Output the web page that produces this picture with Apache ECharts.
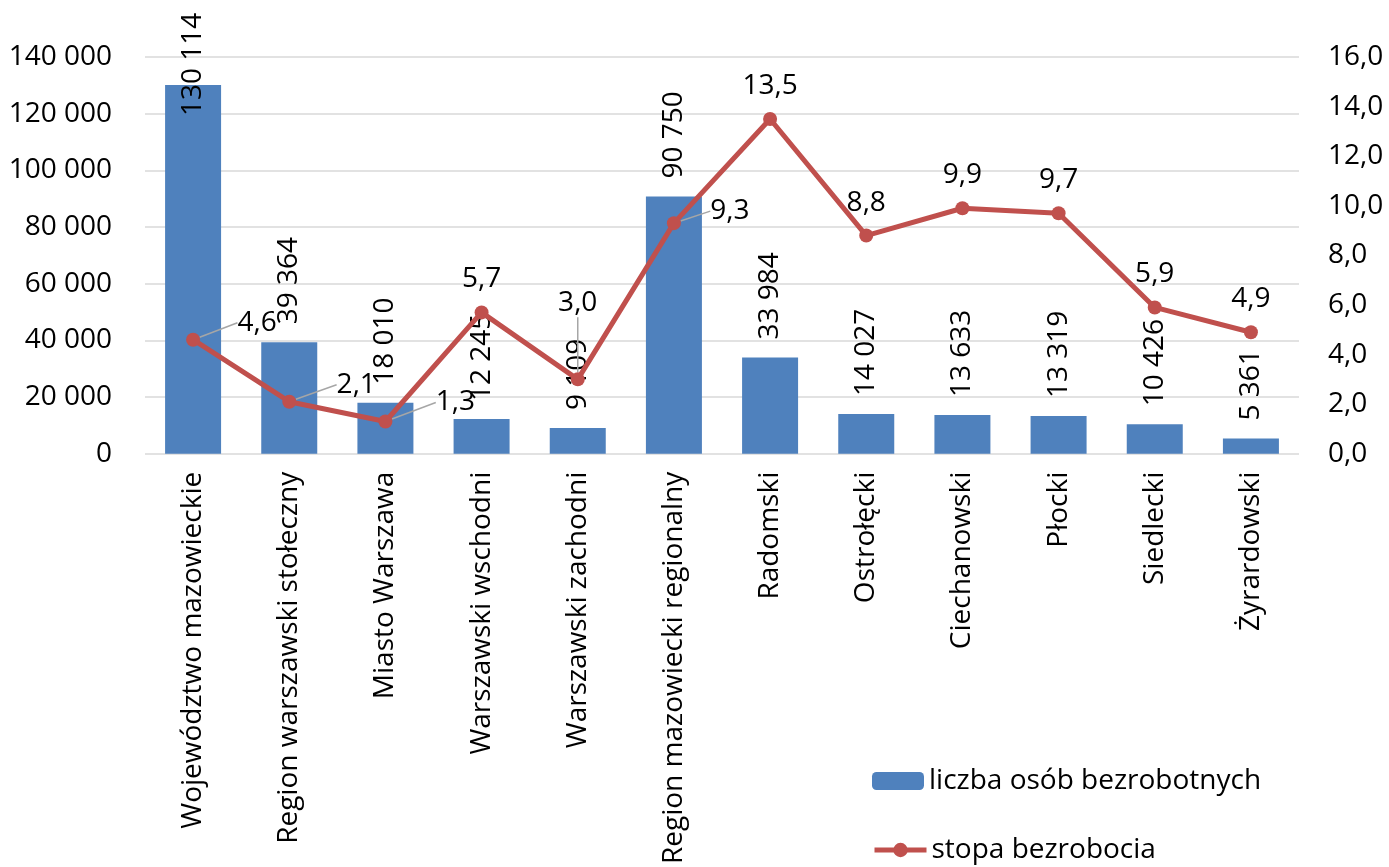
<!DOCTYPE html>
<html>
<head>
<meta charset="utf-8">
<script src="https://cdn.jsdelivr.net/npm/echarts@6/dist/echarts.min.js"></script>
<style>
  html, body { margin: 0; padding: 0; background: #fff; }
  #chart { width: 1389px; height: 867px; }
</style>
</head>
<body>
<div id="chart"></div>
<script>
// kategorie (podregiony)
const categories = [
  'Województwo mazowieckie', 'Region warszawski stołeczny', 'Miasto Warszawa',
  'Warszawski wschodni', 'Warszawski zachodni', 'Region mazowiecki regionalny',
  'Radomski', 'Ostrołęcki', 'Ciechanowski', 'Płocki', 'Siedlecki', 'Żyrardowski'
]
// liczba osób bezrobotnych
const unemployed = [130114, 39364, 18010, 12245, 9109, 90750, 33984, 14027, 13633, 13319, 10426, 5361]
// stopa bezrobocia (%)
const rate = [4.6, 2.1, 1.3, 5.7, 3.0, 9.3, 13.5, 8.8, 9.9, 9.7, 5.9, 4.9]

const FONT = '"Open Sans", sans-serif'
const FS = 28

const fmtInt = v => String(v).replace(/\B(?=(\d{3})+(?!\d))/g, ' ')
const fmtDec = v => Number(v).toFixed(1).replace('.', ',')

// przesunięcia etykiet z linią odniesienia
const labelShift = {
  0: [64, 16],
  1: [67, 16],
  2: [70, 14],
  4: [0, -43],
  5: [56, 21]
}

const chart = echarts.init(document.getElementById('chart'))

const barData = unemployed.map((v, i) => {
  if (i === 0) {
    return { value: v, label: { position: ['50%', 31] } }
  }
  return v
})

const lineData = rate.map((v, i) => ({
  value: v,
  labelLine: { show: !!labelShift[i] }
}))

const legendBase = {
  orient: 'vertical',
  left: 872,
  padding: 0,
  itemWidth: 52,
  itemHeight: 18,
  lineStyle: { width: 5 },
  textStyle: { fontSize: FS, color: '#000', fontFamily: FONT, lineHeight: 30 }
}

const option = {
  animation: false,
  textStyle: { fontFamily: FONT },
  grid: { left: 145, right: 90, top: 57, bottom: 412 },
  legend: [
    Object.assign({}, legendBase, { top: 766, data: ['liczba osób bezrobotnych'] }),
    Object.assign({}, legendBase, { top: 835, data: ['stopa bezrobocia'] })
  ],
  xAxis: {
    type: 'category',
    data: categories,
    axisLine: { show: false },
    axisTick: { show: false },
    axisLabel: {
      rotate: 90,
      margin: 18,
      interval: 0,
      fontSize: FS,
      color: '#000',
      fontFamily: FONT
    }
  },
  yAxis: [
    {
      type: 'value',
      min: 0,
      max: 140000,
      interval: 20000,
      axisLine: { show: false },
      axisTick: { show: false },
      splitLine: { lineStyle: { color: '#D9D9D9', width: 1.5 } },
      axisLabel: { margin: 33, fontSize: FS, color: '#000', fontFamily: FONT, formatter: fmtInt }
    },
    {
      type: 'value',
      min: 0,
      max: 16,
      interval: 2,
      axisLine: { show: false },
      axisTick: { show: false },
      splitLine: { show: false },
      axisLabel: { margin: 29, fontSize: FS, color: '#000', fontFamily: FONT, formatter: fmtDec }
    }
  ],
  series: [
    {
      name: 'liczba osób bezrobotnych',
      type: 'bar',
      yAxisIndex: 0,
      barWidth: 56,
      data: barData,
      itemStyle: { color: '#4F81BD' },
      label: {
        show: true,
        position: 'top',
        distance: 18,
        rotate: 90,
        align: 'left',
        verticalAlign: 'middle',
        fontSize: FS,
        color: '#000',
        fontFamily: FONT,
        formatter: p => fmtInt(p.value)
      }
    },
    {
      name: 'stopa bezrobocia',
      type: 'line',
      yAxisIndex: 1,
      data: lineData,
      symbol: 'circle',
      symbolSize: 14,
      lineStyle: { color: '#C0504D', width: 5 },
      itemStyle: { color: '#C0504D' },
      label: {
        show: true,
        position: 'top',
        distance: 12,
        fontSize: FS,
        color: '#000',
        fontFamily: FONT,
        formatter: p => fmtDec(p.value)
      },
      labelLine: { show: true, lineStyle: { color: '#A6A6A6', width: 1.5 } },
      labelLayout: p => {
        const s = labelShift[p.dataIndex]
        return s ? { dx: s[0], dy: s[1] } : {}
      }
    }
  ]
}

chart.setOption(option)
</script>
</body>
</html>
